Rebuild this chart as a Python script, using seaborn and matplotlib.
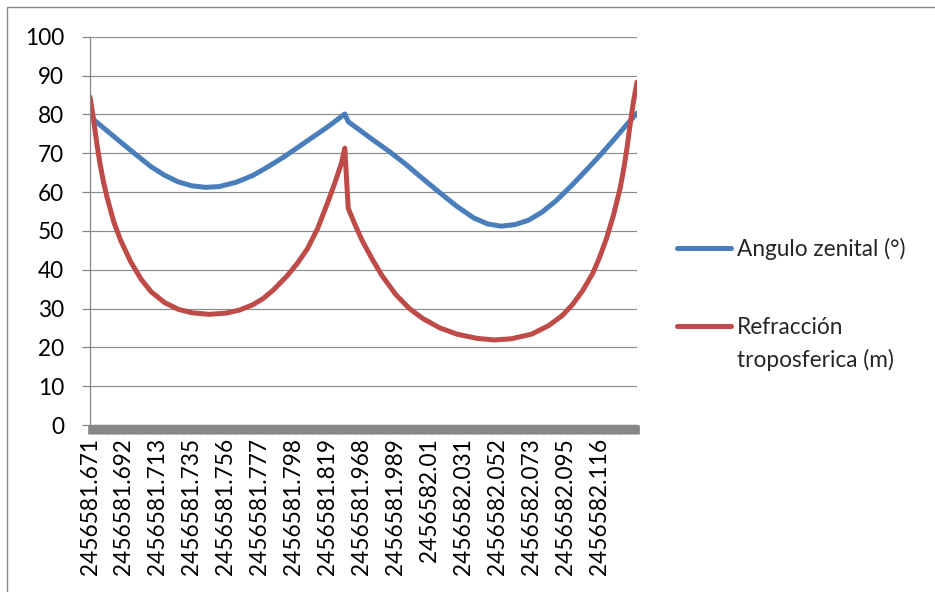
import pandas as pd
import matplotlib
matplotlib.use("Agg")
import matplotlib.pyplot as plt
import seaborn as sns
from matplotlib.lines import Line2D
from matplotlib.patches import Rectangle

# Etiquetas del eje X (una cada 10 filas del registro)
filas_etiqueta = list(range(0, 160, 10))
etiquetas_fecha = [
    "2456581.671", "2456581.692", "2456581.713", "2456581.735",
    "2456581.756", "2456581.777", "2456581.798", "2456581.819",
    "2456581.968", "2456581.989", "2456582.01", "2456582.031",
    "2456582.052", "2456582.073", "2456582.095", "2456582.116",
]
n_filas = 162

# Angulo zenital (grados)
fila_angulo = [0, 4, 8, 13, 18, 22, 26, 30, 34, 38,
               43, 48, 52, 57, 62, 66, 70, 75, 76, 79,
               83, 88, 93, 98, 103, 108, 113, 117, 121, 125,
               129, 133, 137, 142, 147, 151, 155, 158, 161]
angulo_zenital = [79.4, 76.5, 73.6, 70.0, 66.5, 64.3, 62.6, 61.6, 61.2, 61.4,
                  62.5, 64.3, 66.3, 69.0, 72.0, 74.4, 76.8, 80.1, 78.1, 76.2,
                  73.6, 70.5, 67.1, 63.4, 59.8, 56.3, 53.3, 51.8, 51.2, 51.6,
                  52.7, 54.8, 57.6, 61.9, 66.5, 70.3, 74.3, 77.4, 80.3]

# Refraccion troposferica (m)
fila_refraccion = [0, 1, 2, 3, 4, 5, 7, 9, 12, 15,
                   18, 22, 26, 30, 35, 40, 44, 48, 51, 54,
                   58, 61, 64, 67, 70, 72, 74, 75, 76, 78,
                   80, 83, 86, 90, 94, 98, 103, 108, 114, 119,
                   124, 130, 135, 139, 142, 145, 148, 150, 152, 154,
                   156, 157, 158, 159, 160, 161]
refraccion = [84.5, 79.0, 72.5, 67.0, 62.5, 58.7, 52.3, 47.6, 42.0, 37.6,
              34.3, 31.5, 29.8, 28.9, 28.5, 28.8, 29.6, 31.0, 32.6, 34.8,
              38.4, 41.6, 45.4, 50.6, 57.4, 62.2, 67.4, 71.3, 55.8, 51.6,
              47.7, 42.8, 38.4, 33.6, 30.0, 27.4, 25.0, 23.4, 22.3, 21.9,
              22.2, 23.4, 25.6, 28.2, 31.0, 34.6, 39.1, 43.2, 48.0, 53.8,
              60.8, 65.5, 71.0, 77.5, 83.5, 88.3]

serie_angulo = "Angulo zenital (°)"
serie_refraccion = "Refracción"
colores = {serie_angulo: "#4a7ebb", serie_refraccion: "#be4b48"}

sns.set_theme(style="white")
plt.rcParams["font.family"] = ["Lato", "DejaVu Sans"]
plt.rcParams["lines.solid_capstyle"] = "round"
plt.rcParams["lines.solid_joinstyle"] = "round"
gris = "#878787"
fs = 16.3

df = pd.concat([
    pd.DataFrame({"fila": fila_angulo, "valor": angulo_zenital, "serie": serie_angulo}),
    pd.DataFrame({"fila": fila_refraccion, "valor": refraccion, "serie": serie_refraccion}),
])

fig = plt.figure(figsize=(9.35, 5.92), dpi=100)
ax = fig.add_axes([90 / 935, 1 - 425 / 592, 547 / 935, 388.3 / 592])

sns.lineplot(data=df, x="fila", y="valor", hue="serie", palette=colores,
             estimator=None, sort=False, linewidth=3.6, legend=False, ax=ax)

ax.set_xlim(0, n_filas - 1)
ax.set_ylim(0, 100)
ax.set_yticks(range(0, 101, 10))
ax.set_xticks(filas_etiqueta)
ax.set_xticklabels(etiquetas_fecha, rotation=90, va="top", ha="center")
ax.set_xticks(range(n_filas), minor=True)
ax.set_xlabel("")
ax.set_ylabel("")

# marcas de categoria muy densas: forman la barra gris bajo el eje
ax.tick_params(axis="x", which="both", bottom=True, length=6.2, width=3.4, color=gris,
               direction="out", pad=3, labelsize=fs, labelcolor="black")
ax.tick_params(axis="y", length=5.8, width=0.9, color=gris, direction="out",
               pad=13, labelsize=fs, labelcolor="black", left=True)
ax.yaxis.grid(True, color="#8c8c8c", linewidth=0.85)
ax.xaxis.grid(False)
ax.set_axisbelow(True)
for lado in ["top", "right"]:
    ax.spines[lado].set_visible(False)
ax.spines["left"].set_color(gris)
ax.spines["left"].set_linewidth(0.9)
ax.spines["bottom"].set_color(gris)
ax.spines["bottom"].set_linewidth(1.0)

# Leyenda a la derecha
manejadores = [Line2D([], [], color=colores[s], linewidth=3.6) for s in [serie_angulo, serie_refraccion]]
leg = ax.legend(manejadores, [serie_angulo, serie_refraccion], loc="upper left",
                bbox_to_anchor=(677 / 935, 1 - 237.5 / 592), bbox_transform=fig.transFigure,
                frameon=False, borderpad=0, borderaxespad=0, handlelength=2.4,
                handletextpad=0.25, labelspacing=2.52, fontsize=fs)

# Segunda linea del texto de la leyenda, debajo de "Refracción"
fig.canvas.draw()
bb = leg.get_texts()[1].get_window_extent()
x_txt, y_txt = fig.transFigure.inverted().transform((bb.x0, (bb.y0 + bb.y1) / 2 - 33))
fig.text(x_txt, y_txt, "troposferica (m)", ha="left", va="center", fontsize=fs)

# Borde del area del grafico
fig.patches.append(Rectangle((7 / 935, -0.05), 1.2, 1 - 7 / 592 + 0.05,
                             transform=fig.transFigure, fill=False,
                             edgecolor=gris, linewidth=1.0))

fig.savefig("out.png", dpi=100)
plt.close(fig)
